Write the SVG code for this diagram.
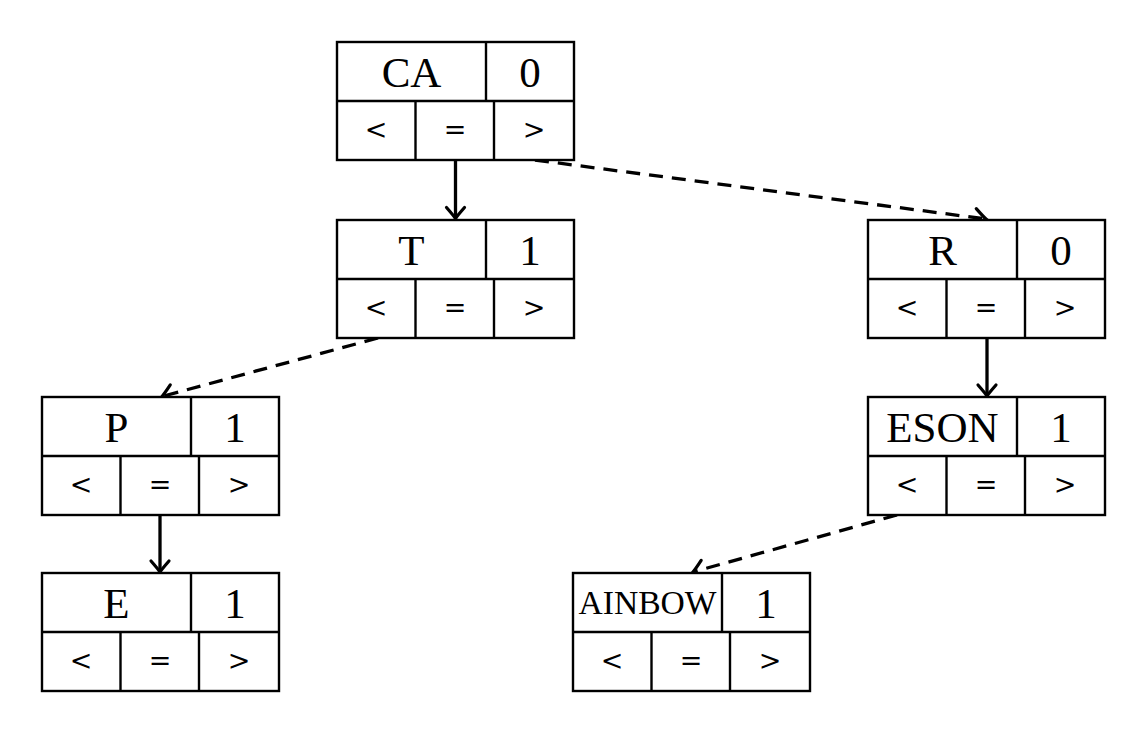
<svg xmlns="http://www.w3.org/2000/svg" width="1148" height="734" viewBox="0 0 1148 734">
<style>
.box{fill:#fff;stroke:#000;stroke-width:2.4}
.div{stroke:#000;stroke-width:2.4}
.t{font-family:"Liberation Serif","DejaVu Serif",serif;font-size:43px;text-anchor:middle;fill:#000}
.s{font-family:"DejaVu Serif","Liberation Serif",serif;font-size:27px;text-anchor:middle;fill:#000}
.sc{font-family:"Liberation Serif","DejaVu Serif",serif;font-size:33px;text-anchor:middle;fill:#000}
.edge{fill:none;stroke:#000;stroke-width:3.3}
.dash{stroke-dasharray:14 9}
</style>
<defs>
<marker id="arr" markerUnits="userSpaceOnUse" viewBox="-14 -12 18 24" refX="0" refY="0" markerWidth="18" markerHeight="24" orient="auto" overflow="visible">
<path d="M-11,-9 Q-3,-2 0,0 Q-3,2 -11,9" fill="none" stroke="#000" stroke-width="3.2" stroke-linecap="round"/>
</marker>
</defs>
<rect width="1148" height="734" fill="#fff"/>
<g id="connectors">
<path class="edge" d="M455.5,160 L455.5,218.5" marker-end="url(#arr)"/>
<path class="edge dash" d="M535,160 L986,219" marker-end="url(#arr)"/>
<path class="edge dash" d="M378,338 L162,396.5" marker-end="url(#arr)"/>
<path class="edge" d="M987,338 L987,396" marker-end="url(#arr)"/>
<path class="edge" d="M160,515 L160,572" marker-end="url(#arr)"/>
<path class="edge dash" d="M897,515 L693,572" marker-end="url(#arr)"/>
</g>
<g id="node-CA" transform="translate(337,42)">
<rect class="box" x="0" y="0" width="237" height="118"/>
<line class="div" x1="0" y1="59" x2="237" y2="59"/><line class="div" x1="149" y1="0" x2="149" y2="59"/>
<line class="div" x1="78.5" y1="59" x2="78.5" y2="118"/><line class="div" x1="157" y1="59" x2="157" y2="118"/>
<text class="t" x="74.5" y="45">CA</text><text class="t" x="193" y="45">0</text>
<text class="s" x="39" y="97">&lt;</text><text class="s" x="118" y="97">=</text><text class="s" x="197" y="97">&gt;</text>
</g>
<g id="node-T" transform="translate(337,220)">
<rect class="box" x="0" y="0" width="237" height="118"/>
<line class="div" x1="0" y1="59" x2="237" y2="59"/><line class="div" x1="149" y1="0" x2="149" y2="59"/>
<line class="div" x1="78.5" y1="59" x2="78.5" y2="118"/><line class="div" x1="157" y1="59" x2="157" y2="118"/>
<text class="t" x="74.5" y="45">T</text><text class="t" x="193" y="45">1</text>
<text class="s" x="39" y="97">&lt;</text><text class="s" x="118" y="97">=</text><text class="s" x="197" y="97">&gt;</text>
</g>
<g id="node-R" transform="translate(868,220)">
<rect class="box" x="0" y="0" width="237" height="118"/>
<line class="div" x1="0" y1="59" x2="237" y2="59"/><line class="div" x1="149" y1="0" x2="149" y2="59"/>
<line class="div" x1="78.5" y1="59" x2="78.5" y2="118"/><line class="div" x1="157" y1="59" x2="157" y2="118"/>
<text class="t" x="74.5" y="45">R</text><text class="t" x="193" y="45">0</text>
<text class="s" x="39" y="97">&lt;</text><text class="s" x="118" y="97">=</text><text class="s" x="197" y="97">&gt;</text>
</g>
<g id="node-P" transform="translate(42,397)">
<rect class="box" x="0" y="0" width="237" height="118"/>
<line class="div" x1="0" y1="59" x2="237" y2="59"/><line class="div" x1="149" y1="0" x2="149" y2="59"/>
<line class="div" x1="78.5" y1="59" x2="78.5" y2="118"/><line class="div" x1="157" y1="59" x2="157" y2="118"/>
<text class="t" x="74.5" y="45">P</text><text class="t" x="193" y="45">1</text>
<text class="s" x="39" y="97">&lt;</text><text class="s" x="118" y="97">=</text><text class="s" x="197" y="97">&gt;</text>
</g>
<g id="node-ESON" transform="translate(868,397)">
<rect class="box" x="0" y="0" width="237" height="118"/>
<line class="div" x1="0" y1="59" x2="237" y2="59"/><line class="div" x1="149" y1="0" x2="149" y2="59"/>
<line class="div" x1="78.5" y1="59" x2="78.5" y2="118"/><line class="div" x1="157" y1="59" x2="157" y2="118"/>
<text class="t" x="74.5" y="45">ESON</text><text class="t" x="193" y="45">1</text>
<text class="s" x="39" y="97">&lt;</text><text class="s" x="118" y="97">=</text><text class="s" x="197" y="97">&gt;</text>
</g>
<g id="node-E" transform="translate(42,573)">
<rect class="box" x="0" y="0" width="237" height="118"/>
<line class="div" x1="0" y1="59" x2="237" y2="59"/><line class="div" x1="149" y1="0" x2="149" y2="59"/>
<line class="div" x1="78.5" y1="59" x2="78.5" y2="118"/><line class="div" x1="157" y1="59" x2="157" y2="118"/>
<text class="t" x="74.5" y="45">E</text><text class="t" x="193" y="45">1</text>
<text class="s" x="39" y="97">&lt;</text><text class="s" x="118" y="97">=</text><text class="s" x="197" y="97">&gt;</text>
</g>
<g id="node-AINBOW" transform="translate(573,573)">
<rect class="box" x="0" y="0" width="237" height="118"/>
<line class="div" x1="0" y1="59" x2="237" y2="59"/><line class="div" x1="149" y1="0" x2="149" y2="59"/>
<line class="div" x1="78.5" y1="59" x2="78.5" y2="118"/><line class="div" x1="157" y1="59" x2="157" y2="118"/>
<text class="sc" x="74.5" y="41" textLength="138" lengthAdjust="spacingAndGlyphs">AINBOW</text><text class="t" x="193" y="45">1</text>
<text class="s" x="39" y="97">&lt;</text><text class="s" x="118" y="97">=</text><text class="s" x="197" y="97">&gt;</text>
</g>
</svg>
